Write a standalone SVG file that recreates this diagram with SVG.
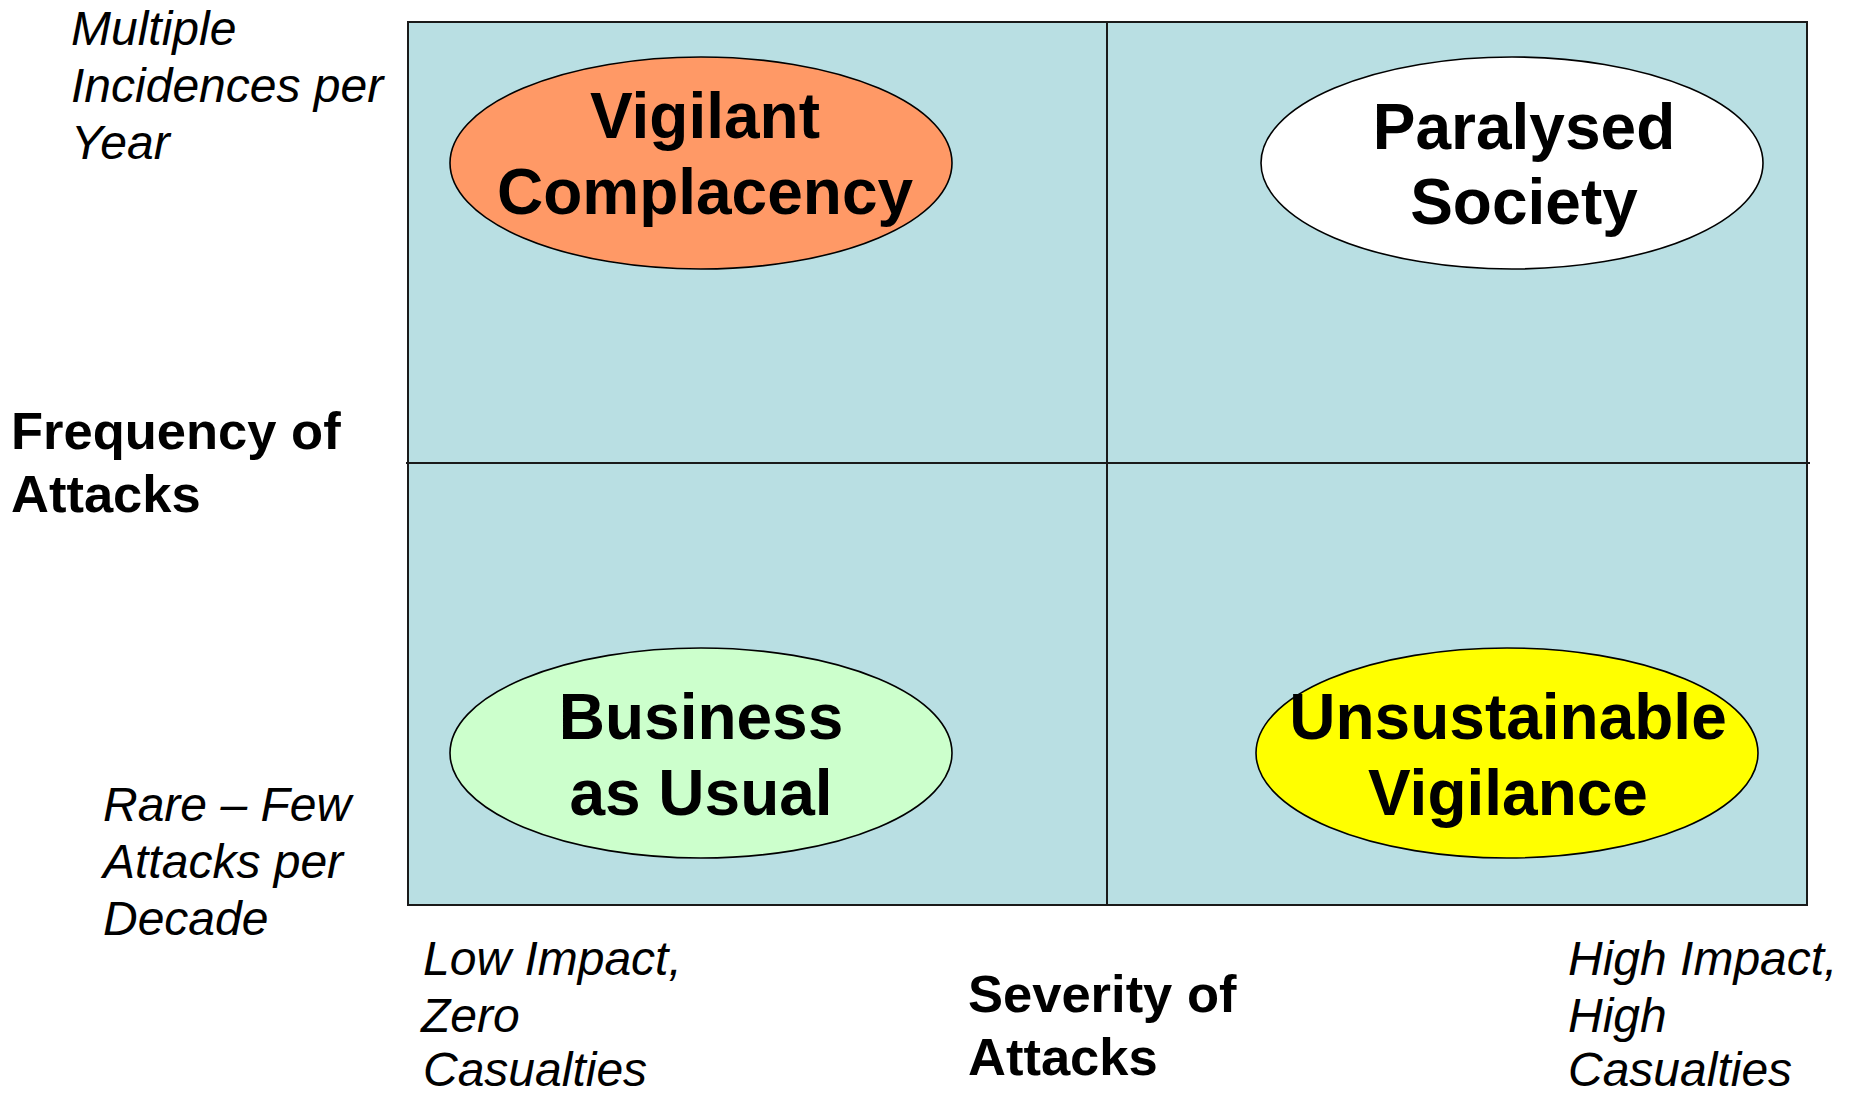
<svg xmlns="http://www.w3.org/2000/svg" width="1853" height="1095" viewBox="0 0 1853 1095">
  <style>
    .grid { fill: #B9DFE3; stroke: #1a1a1a; stroke-width: 2; }
    .divider { stroke: #1a1a1a; stroke-width: 2; fill: none; }
    .oval { stroke: #000; stroke-width: 1.6; }
    .oval-label { font-family: "Liberation Sans", Arial, sans-serif; font-weight: bold; font-size: 64px; fill: #000; text-anchor: middle; }
    .axis-title { font-family: "Liberation Sans", Arial, sans-serif; font-weight: bold; font-size: 52.5px; fill: #000; }
    .axis-note { font-family: "Liberation Sans", Arial, sans-serif; font-style: italic; font-size: 48px; fill: #000; }
  </style>
  <rect width="1853" height="1095" fill="#fff"/>

  <!-- quadrant frame -->
  <rect id="frame" class="grid" x="408" y="22" width="1399" height="883"/>

  <!-- quadrant dividers -->
  <g id="connectors">
    <line class="divider" x1="1107" y1="22" x2="1107" y2="905"/>
    <line class="divider" x1="406" y1="463" x2="1810" y2="463"/>
  </g>

  <!-- quadrant nodes -->
  <g id="vigilant-complacency">
    <ellipse class="oval" cx="701" cy="163" rx="251" ry="106" fill="#FF9966"/>
    <text class="oval-label" x="705" y="138">Vigilant</text>
    <text class="oval-label" x="705" y="214">Complacency</text>
  </g>
  <g id="paralysed-society">
    <ellipse class="oval" cx="1512" cy="163" rx="251" ry="106" fill="#FFFFFF"/>
    <text class="oval-label" x="1524" y="149">Paralysed</text>
    <text class="oval-label" x="1524" y="224">Society</text>
  </g>
  <g id="business-as-usual">
    <ellipse class="oval" cx="701" cy="753" rx="251" ry="105" fill="#CCFFCC"/>
    <text class="oval-label" x="701" y="739">Business</text>
    <text class="oval-label" x="701" y="815">as Usual</text>
  </g>
  <g id="unsustainable-vigilance">
    <ellipse class="oval" cx="1507" cy="753" rx="251" ry="105" fill="#FFFF00"/>
    <text class="oval-label" x="1508" y="739">Unsustainable</text>
    <text class="oval-label" x="1508" y="815">Vigilance</text>
  </g>

  <!-- vertical axis -->
  <g id="freq-high">
    <text class="axis-note" x="71" y="45">Multiple</text>
    <text class="axis-note" x="71" y="102">Incidences per</text>
    <text class="axis-note" x="71" y="159">Year</text>
  </g>
  <g id="freq-title">
    <text class="axis-title" x="11" y="449">Frequency of</text>
    <text class="axis-title" x="11" y="512">Attacks</text>
  </g>
  <g id="freq-low">
    <text class="axis-note" x="103" y="821">Rare – Few</text>
    <text class="axis-note" x="103" y="878">Attacks per</text>
    <text class="axis-note" x="103" y="935">Decade</text>
  </g>

  <!-- horizontal axis -->
  <g id="sev-low">
    <text class="axis-note" x="423" y="975">Low Impact,</text>
    <text class="axis-note" x="421" y="1032">Zero</text>
    <text class="axis-note" x="423" y="1086">Casualties</text>
  </g>
  <g id="sev-title">
    <text class="axis-title" x="968" y="1012">Severity of</text>
    <text class="axis-title" x="968" y="1075">Attacks</text>
  </g>
  <g id="sev-high">
    <text class="axis-note" x="1568" y="975">High Impact,</text>
    <text class="axis-note" x="1568" y="1032">High</text>
    <text class="axis-note" x="1568" y="1086">Casualties</text>
  </g>
</svg>
